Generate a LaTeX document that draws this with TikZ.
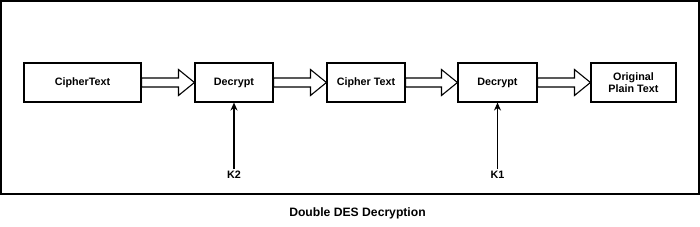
\documentclass[tikz,border=0pt]{standalone}
\usepackage{fontspec}
\setmainfont{Liberation Sans}
\usetikzlibrary{calc,arrows.meta}
\begin{document}
\begin{tikzpicture}[x=1bp,y=-1bp,
  box/.style={draw,line width=1.1bp,minimum height=39bp,inner sep=0pt,align=center,
    font=\fontsize{10.8}{12.5}\selectfont\bfseries},
  blockarrow/.style={draw,line width=1.1bp,fill=white,line join=miter},
  keyarrow/.style={draw,line width=1.2bp,-{Stealth[length=8bp,width=7bp]}},
  keylabel/.style={inner sep=2bp,font=\fontsize{10.8}{12.5}\selectfont\bfseries}]
\useasboundingbox (0,0) rectangle (700,226);
\draw[line width=1.3bp] (1,1) rectangle (699,194);
\node[box,minimum width=117bp] (ct) at (82.5,82.5) {CipherText};
\node[box,minimum width=78bp] (d1) at (234,82.5) {Decrypt};
\node[box,minimum width=78bp] (ct2) at (366,82.5) {Cipher Text};
\node[box,minimum width=79bp] (d2) at (497.5,82.5) {Decrypt};
\node[box,minimum width=85bp] (pt) at (633.5,82.5) {Original\\Plain Text};
\node[keylabel] (k2) at (234,175) {K2};
\node[keylabel] (k1) at (497.5,175) {K1};
\node[font=\fontsize{12.2}{14}\selectfont\bfseries] (title) at (357.5,213) {Double DES Decryption};
\foreach \a/\b in {ct/d1,d1/ct2,ct2/d2,d2/pt}{
  \path[blockarrow] let \p1=(\a.east), \p2=(\b.west) in
    (\x1,\y1+4.5bp) -- (\x2-16bp,\y1+4.5bp) -- (\x2-16bp,\y1+13bp) -- (\x2,\y1)
    -- (\x2-16bp,\y1-13bp) -- (\x2-16bp,\y1-4.5bp) -- (\x1,\y1-4.5bp) -- cycle;
}
\draw[keyarrow] (k2.north) -- (d1.south);
\draw[keyarrow] (k1.north) -- (d2.south);
\end{tikzpicture}
\end{document}
